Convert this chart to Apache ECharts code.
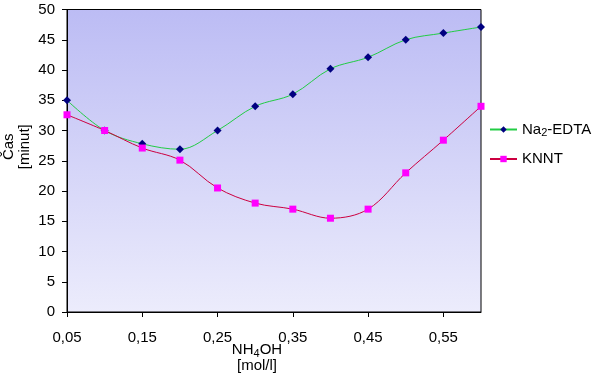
<!DOCTYPE html>
<html><head><meta charset="utf-8">
<script src="https://cdn.jsdelivr.net/npm/echarts@6/dist/echarts.min.js"></script>
<style>html,body{margin:0;padding:0;background:#fff}#c{width:600px;height:379px}</style>
</head><body><div id="c"></div>
<script>
var categories = ['0,05','0,1','0,15','0,2','0,25','0,3','0,35','0,4','0,45','0,5','0,55','0,6'];
var na2edta = [35, 30, 27.8, 26.9, 30, 34, 36, 40.2, 42.1, 45, 46.1, 47.1];
var knnt = [32.6, 30, 27.1, 25.1, 20.5, 18, 17, 15.5, 17, 23, 28.4, 34];
var yTicks = {min: 0, max: 50, interval: 5};

var FONT = 'Liberation Sans, Arial, sans-serif';
var FS = 15;
var chart = echarts.init(document.getElementById('c'));
chart.setOption({
  animation: false,
  textStyle: {fontFamily: FONT},
  grid: {left: 67, right: 119, top: 9.5, bottom: 67, containLabel: false, outerBoundsMode: 'none',
    show: true, borderColor: '#000', borderWidth: 1,
    backgroundColor: {type: 'linear', x: 0, y: 0, x2: 0, y2: 1,
      colorStops: [{offset: 0, color: '#bcbcf4'}, {offset: 1, color: '#ececfc'}]}},
  xAxis: {
    type: 'category', data: categories, boundaryGap: false,
    axisLine: {lineStyle: {color: '#000', width: 1}},
    axisTick: {show: true, interval: 1, length: 5, lineStyle: {color: '#000'}},
    axisLabel: {interval: 1, color: '#000', fontSize: FS, margin: 18, fontFamily: FONT},
    splitLine: {show: false},
    name: '{n|NH}{s|4}{n|OH}\n{n|[mol/l]}', nameLocation: 'middle', nameGap: 30, nameMoveOverlap: false,
    nameTextStyle: {padding: [0, 34, 0, 0], lineHeight: 16,
      rich: {n: {fontSize: FS, color: '#000', fontFamily: FONT, lineHeight: 16},
             s: {fontSize: 11, color: '#000', fontFamily: FONT, padding: [7, 0, 0, 0]}}}
  },
  yAxis: {
    type: 'value', min: yTicks.min, max: yTicks.max, interval: yTicks.interval,
    axisLine: {show: true, lineStyle: {color: '#000', width: 1}},
    axisTick: {show: true, length: 5, lineStyle: {color: '#000'}},
    axisLabel: {color: '#000', fontSize: FS, margin: 12, fontFamily: FONT},
    splitLine: {show: false},
    name: 'Čas\n[minut]', nameLocation: 'middle', nameRotate: 90, nameGap: 34, nameMoveOverlap: false,
    nameTextStyle: {color: '#000', fontSize: FS, lineHeight: 16, fontFamily: FONT, padding: [0, 0, 0, 28]}
  },
  legend: {
    orient: 'vertical', left: 484, top: 117, itemGap: 13, itemWidth: 27, itemHeight: 8,
    textStyle: {fontSize: FS, color: '#000', fontFamily: FONT,
      rich: {n: {fontSize: FS, color: '#000', fontFamily: FONT},
             s: {fontSize: 11, color: '#000', fontFamily: FONT, padding: [7, 0, 0, 0]}}},
    formatter: function (name) {
      if (name === 'Na2-EDTA') return '{n|Na}{s|2}{n|-EDTA}';
      return '{n|' + name + '}';
    },
    data: ['Na2-EDTA', 'KNNT']
  },
  series: [
    {name: 'Na2-EDTA', type: 'line', data: na2edta, smooth: 0.35,
     symbol: 'diamond', symbolSize: 8, showAllSymbol: true,
     lineStyle: {color: '#22cc44', width: 1},
     itemStyle: {color: '#000080', borderWidth: 0}},
    {name: 'KNNT', type: 'line', data: knnt, smooth: 0.35,
     symbol: 'rect', symbolSize: 7, showAllSymbol: true,
     lineStyle: {color: '#cc0040', width: 1},
     itemStyle: {color: '#ff00ff', borderWidth: 0}}
  ]
});
</script></body></html>
